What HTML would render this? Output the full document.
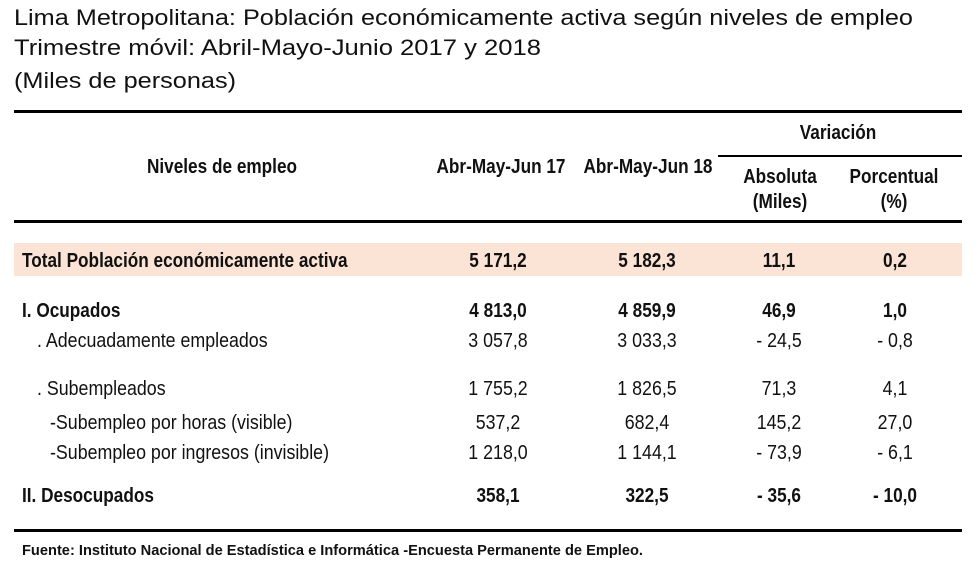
<!DOCTYPE html>
<html><head><meta charset="utf-8"><style>
html,body{margin:0;padding:0;background:#fff;width:980px;height:577px;overflow:hidden}
svg{display:block}
.t{font-family:"Liberation Sans",sans-serif;fill:#111}
.n{font-family:"Liberation Sans",sans-serif;fill:#111;font-size:20px}
.b{font-weight:bold}
</style></head><body>
<svg width="980" height="577">
<text class="t" x="14" y="25" font-size="22" textLength="899" lengthAdjust="spacingAndGlyphs">Lima Metropolitana: Población económicamente activa según niveles de empleo</text>
<text class="t" x="14" y="55" font-size="22" textLength="527" lengthAdjust="spacingAndGlyphs">Trimestre móvil: Abril-Mayo-Junio 2017 y  2018</text>
<text class="t" x="14" y="88" font-size="22" textLength="222" lengthAdjust="spacingAndGlyphs">(Miles de personas)</text>
<rect x="14" y="110" width="948" height="3" fill="#000"/>
<rect x="718" y="155" width="244" height="2" fill="#000"/>
<rect x="14" y="220" width="948" height="3" fill="#000"/>
<rect x="14" y="243" width="948" height="33" fill="#fbe4d5"/>
<rect x="14" y="529" width="948" height="3" fill="#000"/>
<g text-anchor="middle">
<text class="n b" x="222" y="173">Niveles de empleo</text>
<text class="n b" x="501" y="173">Abr-May-Jun 17</text>
<text class="n b" x="648" y="173">Abr-May-Jun 18</text>
<text class="n b" x="838" y="139">Variación</text>
<text class="n b" x="780" y="183">Absoluta</text>
<text class="n b" x="780" y="208">(Miles)</text>
<text class="n b" x="894" y="183">Porcentual</text>
<text class="n b" x="894" y="208">(%)</text>
</g>
<g id="rows"></g>
<text class="t" x="22" y="555" font-size="15" font-weight="bold" textLength="621" lengthAdjust="spacingAndGlyphs">Fuente: Instituto Nacional de Estadística e Informática -Encuesta Permanente de Empleo.</text>
</svg>
<script>
const labels=["Total Población económicamente activa","I. Ocupados",". Adecuadamente empleados",". Subempleados","-Subempleo por horas (visible)","-Subempleo por ingresos (invisible)","II. Desocupados"];
const v2017=["5 171,2","4 813,0","3 057,8","1 755,2","537,2","1 218,0","358,1"];
const v2018=["5 182,3","4 859,9","3 033,3","1 826,5","682,4","1 144,1","322,5"];
const absVar=["11,1","46,9","- 24,5","71,3","145,2","- 73,9","- 35,6"];
const pctVar=["0,2","1,0","- 0,8","4,1","27,0","- 6,1","- 10,0"];
const rowY=[267,317,347,395,429,459,502];
const indent=[22,22,37,37,50,50,22];
const bold=[true,true,false,false,false,false,true];
const colX=[498,647,779,895];
const ns="http://www.w3.org/2000/svg",g=document.getElementById('rows');
labels.forEach((lab,i)=>{
  const t=document.createElementNS(ns,'text');
  t.setAttribute('class',bold[i]?'n b':'n');t.setAttribute('x',indent[i]);t.setAttribute('y',rowY[i]);
  t.textContent=lab;
  
  
  g.appendChild(t);
  [v2017,v2018,absVar,pctVar].forEach((arr,c)=>{
    const e=document.createElementNS(ns,'text');
    e.setAttribute('class',bold[i]?'n b':'n');e.setAttribute('x',colX[c]);e.setAttribute('y',rowY[i]);
    e.setAttribute('text-anchor','middle');
    e.textContent=arr[i];
    
    
    g.appendChild(e);
  });
});
document.querySelectorAll('text.n').forEach(el=>{
  const w=el.getComputedTextLength();
  const f=el.classList.contains('b')?0.86:0.89;
  el.setAttribute('textLength',(w*f).toFixed(1));
  el.setAttribute('lengthAdjust','spacingAndGlyphs');
});
</script>
</body></html>
